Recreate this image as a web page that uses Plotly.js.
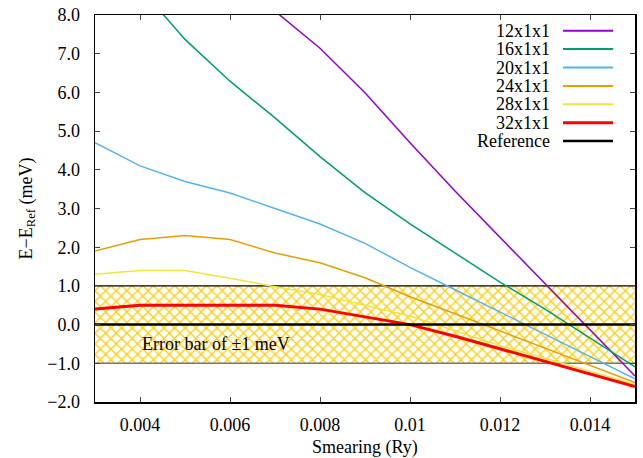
<!DOCTYPE html>
<html>
<head>
<meta charset="utf-8">
<script src="https://cdn.plot.ly/plotly-3.0.1.min.js"></script>
<style>html,body{margin:0;padding:0;background:#fff;}#chart{width:643px;height:458px;}</style>
</head>
<body>
<div id="chart"></div>
<script>
// ---- data ----
const smearing = [0.003,0.004,0.005,0.006,0.007,0.008,0.009,0.010,0.011,0.012,0.013,0.014,0.015];
const k12 = [null,null,null,null,8.1,7.14,5.99,4.7,3.45,2.25,1.06,-0.13,-1.33];
const k16 = [null,8.7,7.37,6.29,5.34,4.34,3.41,2.6,1.85,1.1,0.4,-0.35,-1.09];
const k20 = [4.7,4.1,3.7,3.4,3.0,2.6,2.1,1.48,0.9,0.33,-0.25,-0.82,-1.4];
const k24 = [1.9,2.2,2.3,2.2,1.85,1.6,1.21,0.72,0.28,-0.17,-0.6,-1.05,-1.5];
const k28 = [1.3,1.4,1.4,1.2,0.98,0.78,0.5,0.22,-0.16,-0.54,-0.87,-1.2,-1.54];
const k32 = [0.4,0.5,0.5,0.5,0.5,0.4,0.2,0.0,-0.3,-0.63,-0.95,-1.28,-1.6];
const refX = [0.003,0.015];
const refY = [0,0];
const bandX = [0.003,0.015,0.015,0.003,0.003];
const bandY = [-1,-1,1,1,-1];
const bandTopY = [1,1];
const bandBottomY = [-1,-1];
const seriesNames = ["12x1x1","16x1x1","20x1x1","24x1x1","28x1x1","32x1x1","Reference"];
const bandLabel = "Error bar of \u00b11 meV";
const yTickVals = [-2,-1,0,1,2,3,4,5,6,7,8];
const xTickVals = [0.004,0.006,0.008,0.010,0.012,0.014];

// ---- styles ----
const colors = ["#9400d3","#009e73","#56b4e9","#e69f00","#f0e442","#ff0000","#000000"];
const widths = [1.5,1.5,1.5,1.5,1.5,3,2.5];
const FONT = "Liberation Serif";

const seriesY = [k12,k16,k20,k24,k28,k32];

const traces = [];
traces.push({
  x: bandX, y: bandY, mode: "lines", fill: "toself",
  line: {width: 0, color: "rgba(0,0,0,0)"},
  fillcolor: "#ffffff",
  fillpattern: {shape: "x", fgcolor: "#ffcc00", bgcolor: "#ffffff", size: 7.5, solidity: 0.3},
  hoverinfo: "skip", showlegend: false
});
traces.push({x: refX, y: bandTopY, mode: "lines", line: {color: "#000", width: 1.2}, hoverinfo: "skip", showlegend: false});
traces.push({x: refX, y: bandBottomY, mode: "lines", line: {color: "#777", width: 1.5}, hoverinfo: "skip", showlegend: false});
seriesY.forEach((ys, i) => {
  traces.push({x: smearing, y: ys, mode: "lines", name: seriesNames[i],
    line: {color: colors[i], width: widths[i]}, connectgaps: false, showlegend: false, hoverinfo: "skip"});
});
traces.push({x: refX, y: refY, mode: "lines", name: seriesNames[6],
  line: {color: colors[6], width: widths[6]}, showlegend: false, hoverinfo: "skip"});

// custom legend (text on the left, sample on the right), in paper coords
const L = 95, R = 635, T = 15, B = 402;
const px = v => (v - L) / (R - L);
const py = v => 1 - (v - T) / (B - T);
const annotations = [];
const shapes = [];
seriesNames.forEach((nm, i) => {
  const yy = 30.7 + i * 18.4;
  annotations.push({xref: "paper", yref: "paper", x: px(552), y: py(yy), xanchor: "right", yanchor: "middle",
    text: nm, showarrow: false, font: {family: FONT, size: 18, color: "#000"}});
  shapes.push({type: "line", xref: "paper", yref: "paper", x0: px(563), x1: px(613), y0: py(yy), y1: py(yy),
    line: {color: colors[i], width: widths[i] + (i < 5 ? 0.5 : 0)}});
});
annotations.push({xref: "x", yref: "y", x: 0.004, y: -0.5, xanchor: "left", yanchor: "middle",
  text: bandLabel, showarrow: false, font: {family: FONT, size: 18, color: "#000"}});

const layout = {
  width: 643, height: 458,
  margin: {l: L, r: 643 - R, t: T, b: 458 - B},
  paper_bgcolor: "#fff", plot_bgcolor: "#fff",
  font: {family: FONT, size: 18, color: "#000"},
  showlegend: false,
  xaxis: {
    range: [0.003, 0.015], tickvals: xTickVals, ticks: "inside", ticklen: 5, tickwidth: 1, tickcolor: "#444",
    showline: true, linecolor: "#000", linewidth: 1.5, mirror: "ticks", showgrid: false, zeroline: false,
    tickfont: {family: FONT, size: 18, color: "#000"}, ticklabelstandoff: 6,
    title: {text: "Smearing (Ry)", font: {family: FONT, size: 18, color: "#000"}, standoff: 12}
  },
  yaxis: {
    range: [-2, 8], tickvals: yTickVals, tickformat: ".1f", ticks: "inside", ticklen: 5, tickwidth: 1, tickcolor: "#444",
    showline: true, linecolor: "#000", linewidth: 1.5, mirror: "ticks", showgrid: false, zeroline: false,
    tickfont: {family: FONT, size: 18, color: "#000"}, ticklabelstandoff: 10,
    title: {text: "E\u2212E<sub>Ref</sub> (meV)", font: {family: FONT, size: 18, color: "#000"}, standoff: 10}
  },
  annotations: annotations,
  shapes: shapes
};

Plotly.newPlot("chart", traces, layout, {staticPlot: true, displayModeBar: false});
</script>
</body>
</html>
